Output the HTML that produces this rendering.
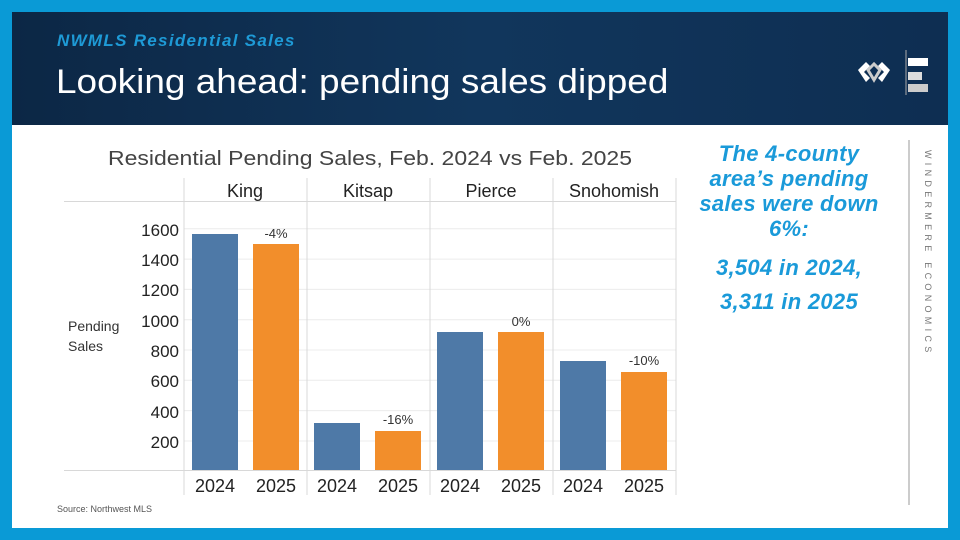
<!DOCTYPE html>
<html><head><meta charset="utf-8"><style>
body{margin:0;width:960px;height:540px;overflow:hidden;background:#0a9ad6;font-family:"Liberation Sans",sans-serif;position:relative}
.hdr{position:absolute;left:12px;top:12px;width:936px;height:113px;background:linear-gradient(90deg,#0c2745,#11365c 50%,#0e2e52);}
.body{position:absolute;left:12px;top:125px;width:936px;height:403px;background:#fff}
.a{position:absolute}
.rt{position:absolute;left:670px;width:238px;text-align:center;color:#1a9ad9;font-weight:bold;font-style:italic;font-size:22px;line-height:25px;letter-spacing:0.3px}
</style></head><body>
<div class="hdr"></div>
<div class="body"></div>
<div class="a" style="left:57px;top:31px;color:#1e9ad6;font-weight:bold;font-style:italic;font-size:17px;letter-spacing:1.3px">NWMLS Residential Sales</div>
<div class="a" style="left:56px;top:63px;color:#fff;font-size:34px;transform:scaleX(1.087);transform-origin:0 0;white-space:nowrap">Looking ahead: pending sales dipped</div>
<svg class="a" style="left:850px;top:50px" width="95" height="45">
<path d="M8 20 L16 12 L20 16 L14 22 L20 28 L16 32 Z M40 20 L32 12 L28 16 L34 22 L28 28 L32 32 Z" fill="#fff"/>
<path d="M18 20 L24 14 L30 20 L24 30 Z" fill="none" stroke="#ccc" stroke-width="3"/>
<line x1="56" y1="0" x2="56" y2="45" stroke="#aaa"/>
<rect x="58" y="8" width="20" height="8" fill="#fff"/><rect x="58" y="22" width="14" height="8" fill="#ddd"/><rect x="58" y="34" width="20" height="8" fill="#ccc"/>
</svg>
<svg class="a" style="left:0;top:0" width="960" height="540" font-family="Liberation Sans,sans-serif">
<text x="108" y="165" font-size="20" fill="#444" textLength="524" lengthAdjust="spacingAndGlyphs">Residential Pending Sales, Feb. 2024 vs Feb. 2025</text>
<g stroke="#ececec">
<line x1="184" x2="676" y1="441" y2="441"/><line x1="184" x2="676" y1="410.6" y2="410.6"/><line x1="184" x2="676" y1="380.3" y2="380.3"/><line x1="184" x2="676" y1="350" y2="350"/><line x1="184" x2="676" y1="319.7" y2="319.7"/><line x1="184" x2="676" y1="289.4" y2="289.4"/><line x1="184" x2="676" y1="259.1" y2="259.1"/><line x1="184" x2="676" y1="228.8" y2="228.8"/>
</g>
<g stroke="#d8d8d8">
<line x1="184" x2="184" y1="178" y2="495"/><line x1="307" x2="307" y1="178" y2="495"/><line x1="430" x2="430" y1="178" y2="495"/><line x1="553" x2="553" y1="178" y2="495"/><line x1="676" x2="676" y1="178" y2="495"/>
<line x1="64" x2="676" y1="201.5" y2="201.5"/><line x1="64" x2="676" y1="470.5" y2="470.5"/>
</g>
<g font-size="18" fill="#222" text-anchor="middle">
<text x="245" y="197">King</text><text x="368" y="197">Kitsap</text><text x="491" y="197">Pierce</text><text x="614" y="197">Snohomish</text>
<text x="215" y="492">2024</text><text x="276" y="492">2025</text><text x="337" y="492">2024</text><text x="398" y="492">2025</text><text x="460" y="492">2024</text><text x="521" y="492">2025</text><text x="583" y="492">2024</text><text x="644" y="492">2025</text>
</g>
<g font-size="17" fill="#222" text-anchor="end">
<text x="179" y="236">1600</text><text x="179" y="266">1400</text><text x="179" y="296">1200</text><text x="179" y="327">1000</text><text x="179" y="357">800</text><text x="179" y="387">600</text><text x="179" y="418">400</text><text x="179" y="448">200</text>
</g>
<text x="68" y="331" font-size="14" fill="#333">Pending</text><text x="68" y="351" font-size="14" fill="#333">Sales</text>
<g fill="#4e79a7"><rect x="192" y="234" width="46" height="236"/><rect x="314" y="423" width="46" height="47"/><rect x="437" y="332" width="46" height="138"/><rect x="560" y="361" width="46" height="109"/></g>
<g fill="#f28e2b"><rect x="253" y="244" width="46" height="226"/><rect x="375" y="431" width="46" height="39"/><rect x="498" y="332" width="46" height="138"/><rect x="621" y="372" width="46" height="98"/></g>
<g font-size="13" fill="#333" text-anchor="middle"><text x="276" y="238">-4%</text><text x="398" y="424">-16%</text><text x="521" y="326">0%</text><text x="644" y="365">-10%</text></g>
<line x1="909" x2="909" y1="140" y2="505" stroke="#999"/>
<text transform="translate(925,150) rotate(90)" font-size="9" fill="#777" letter-spacing="4.3">WINDERMERE ECONOMICS</text>
<text x="57" y="512" font-size="9" fill="#555">Source: Northwest MLS</text>
</svg>
<div class="rt" style="top:141px">The 4-county<br>area’s pending<br>sales were down<br>6%:</div>
<div class="rt" style="top:255px">3,504 in 2024,</div>
<div class="rt" style="top:289px">3,311 in 2025</div>
</body></html>
